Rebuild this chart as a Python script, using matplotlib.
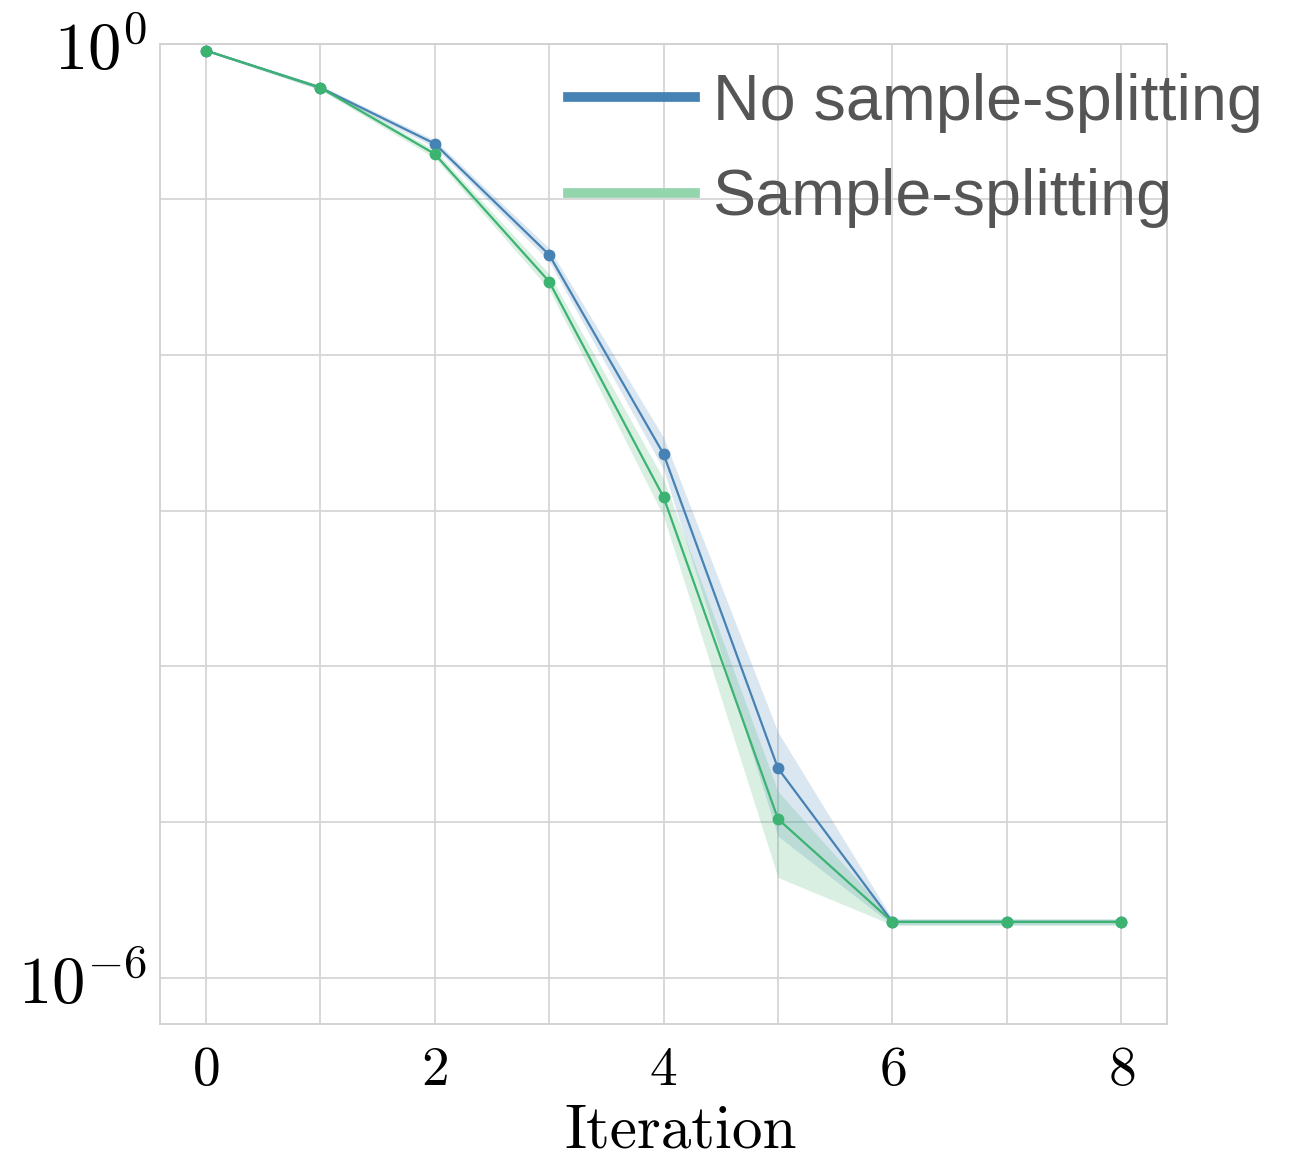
import matplotlib
matplotlib.use('Agg')
import matplotlib.pyplot as plt
from matplotlib.lines import Line2D

plt.rcParams['mathtext.fontset'] = 'cm'

iterations = [0, 1, 2, 3, 4, 5, 6, 7, 8]

# mean error per iteration
no_split = [0.902, 0.521, 0.2275, 0.0440, 0.00231, 2.21e-5, 2.28e-6, 2.28e-6, 2.28e-6]
no_split_lo = [0.890, 0.505, 0.216, 0.0400, 0.00184, 8.1e-6, 2.18e-6, 2.18e-6, 2.18e-6]
no_split_hi = [0.915, 0.538, 0.240, 0.0485, 0.00295, 3.77e-5, 2.38e-6, 2.38e-6, 2.38e-6]

split = [0.902, 0.521, 0.1954, 0.0296, 0.00122, 1.045e-5, 2.28e-6, 2.28e-6, 2.28e-6]
split_lo = [0.890, 0.505, 0.184, 0.0264, 0.00092, 4.4e-6, 2.18e-6, 2.18e-6, 2.18e-6]
split_hi = [0.915, 0.538, 0.207, 0.0332, 0.00160, 1.57e-5, 2.38e-6, 2.38e-6, 2.38e-6]

blue = '#4682b4'
green = '#3cb371'

fig = plt.figure(figsize=(12.97, 11.58), dpi=100)
ax = fig.add_axes([0.1234, 0.1157, 0.7764, 0.8467])

ax.fill_between(iterations, no_split_lo, no_split_hi, color=blue, alpha=0.2, lw=0)
ax.fill_between(iterations, split_lo, split_hi, color=green, alpha=0.2, lw=0)
ax.plot(iterations, no_split, color=blue, lw=1.6, marker='o', ms=7.5)
ax.plot(iterations, split, color=green, lw=1.6, marker='o', ms=7.5)

ax.set_yscale('log')
ax.set_ylim(10 ** -6.298, 1)
ax.set_xlim(-0.4, 8.4)

ax.set_yticks([10.0 ** k for k in range(-6, 1)])
ax.set_yticklabels([r'$10^{-6}$', '', '', '', '', '', r'$10^{0}$'], fontsize=48)
ax.minorticks_off()
ax.set_xticks(iterations)
ax.set_xticklabels([r'$%d$' % v if v % 2 == 0 else '' for v in iterations], fontsize=40)
ax.tick_params(axis='both', length=0)
ax.tick_params(axis='y', pad=9)
ax.tick_params(axis='x', pad=14)

ax.set_xlabel('Iteration', fontsize=44, family='cmr10')
ax.xaxis.set_label_coords(0.517, -0.082)

ax.grid(True, color='#d5d5d5', lw=1.3)
ax.set_axisbelow(True)
for sp in ax.spines.values():
    sp.set_color('#d0d0d0')
    sp.set_linewidth(1.3)

handles = [Line2D([], [], color=blue, lw=7),
           Line2D([], [], color='#93d5ad', lw=7)]
leg = ax.legend(handles, ['No sample-splitting', 'Sample-splitting'],
                loc='upper left', bbox_to_anchor=(0.405, 0.970), frameon=False,
                prop={'family': 'Liberation Sans', 'size': 46.5},
                handlelength=1.97, handletextpad=0.27, labelspacing=0.55,
                borderaxespad=0, borderpad=0)
for t in leg.get_texts():
    t.set_color('#555555')

fig.savefig('out.png', dpi=100)
